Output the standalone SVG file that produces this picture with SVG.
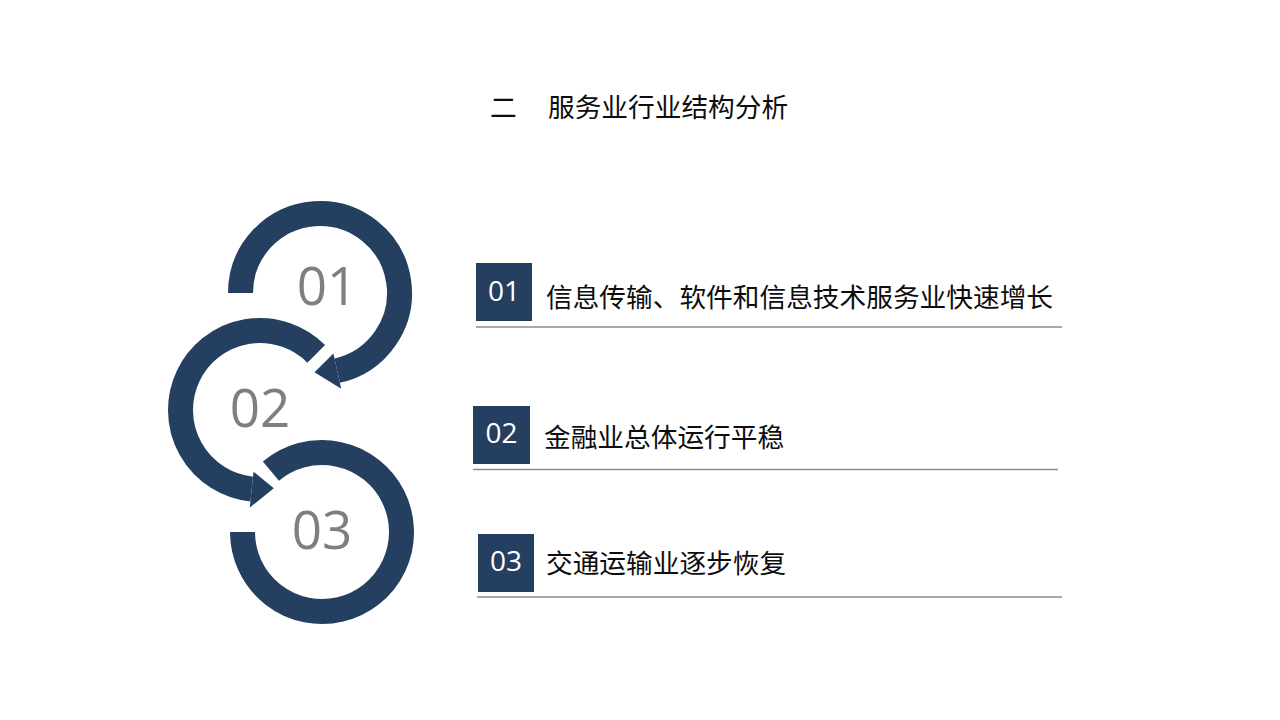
<svg xmlns="http://www.w3.org/2000/svg" width="1280" height="720" viewBox="0 0 1280 720">
<style>
.ring{fill:none;stroke:#243F60;stroke-width:25}
.head{fill:#243F60}
.num{font-family:"Open Sans","Noto Sans",sans-serif;font-size:53px;fill:#7F7F7F;text-anchor:middle}
.box{fill:#243F60}
.bnum{font-family:"Open Sans","Noto Sans",sans-serif;font-size:28px;fill:#FFFFFF;text-anchor:middle}
.lbl{font-family:"Noto Sans CJK SC",sans-serif;font-size:26.7px;fill:#0D0D0D}
.rule{stroke:#8C8C8C;stroke-width:1.5}
</style>
<rect width="1280" height="720" fill="#FFFFFF"/>
<g id="title">
<text class="lbl" y="117"><tspan x="490">二</tspan><tspan x="548">服务业行业结构分析</tspan></text>
</g>
<g id="circle1">
<path class="ring" d="M240.5,293 A79.5,79.5 0 1 1 337.2,370.6"/>
<polygon class="head" points="333.4,353.5 341.2,388.7 314.5,372.3"/>
<text class="num" x="327" y="305">01</text>
</g>
<g id="circle2">
<path class="ring" d="M316.2,353.8 A79.5,79.5 0 1 0 251.7,489.1"/>
<polygon class="head" points="253.5,471.7 249.8,507.5 273.8,488.3"/>
<text class="num" x="260" y="427">02</text>
</g>
<g id="circle3">
<path class="ring" d="M270.9,471.1 A79.5,79.5 0 1 1 242.5,532"/>
<text class="num" x="322" y="549">03</text>
</g>
<g id="item1">
<rect class="box" x="476" y="263" width="56" height="58"/>
<text class="bnum" x="504" y="301">01</text>
<text class="lbl" x="546" y="307">信息传输、软件和信息技术服务业快速增长</text>
</g>
<g id="item2">
<rect class="box" x="473" y="406" width="57" height="58"/>
<text class="bnum" x="501.5" y="443">02</text>
<text class="lbl" x="544" y="447">金融业总体运行平稳</text>
</g>
<g id="item3">
<rect class="box" x="478" y="534" width="56" height="58"/>
<text class="bnum" x="506" y="571">03</text>
<text class="lbl" x="546" y="573">交通运输业逐步恢复</text>
</g>
<g id="connectors">
<line class="rule" x1="476" y1="327" x2="1062" y2="327"/>
<line class="rule" x1="473" y1="469.5" x2="1058" y2="469.5"/>
<line class="rule" x1="477" y1="597" x2="1062" y2="597"/>
</g>
</svg>
